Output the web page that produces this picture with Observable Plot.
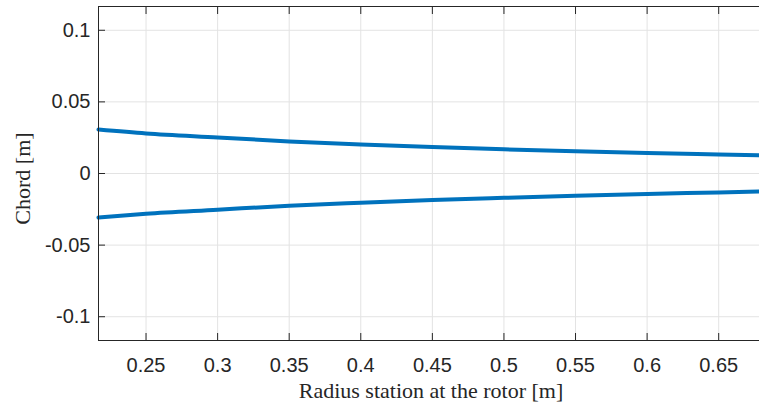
<!DOCTYPE html>
<html>
<head>
<meta charset="utf-8">
<script src="https://cdn.jsdelivr.net/npm/d3@7"></script>
<script src="https://cdn.jsdelivr.net/npm/@observablehq/plot@0.6"></script>
<style>
  html, body { margin: 0; padding: 0; background: #ffffff; }
  #chart { width: 759px; height: 403px; overflow: hidden; }
</style>
</head>
<body>
<div id="chart"></div>
<script>
// Radius stations [m]
const radius = [0.2168, 0.25, 0.30, 0.35, 0.40, 0.45, 0.50, 0.55, 0.60, 0.65, 0.6785];
// Upper chord edge [m]
const upperChord = [0.0307, 0.0280, 0.0252, 0.0224, 0.0203, 0.0185, 0.0169, 0.0155, 0.0143, 0.0133, 0.0128];
// Lower chord edge [m]
const lowerChord = [-0.0307, -0.0281, -0.0253, -0.0225, -0.0204, -0.0185, -0.0170, -0.0156, -0.0143, -0.0132, -0.0126];

const xTicks = [0.25, 0.3, 0.35, 0.4, 0.45, 0.5, 0.55, 0.6, 0.65];
const yTicks = [-0.1, -0.05, 0, 0.05, 0.1];
const xLabel = "Radius station at the rotor [m]";
const yLabel = "Chord [m]";

const upper = radius.map((r, i) => ({r, c: upperChord[i]}));
const lower = radius.map((r, i) => ({r, c: lowerChord[i]}));

const axisColor = "#262626";
const gridColor = "#e3e3e3";
const lineColor = "#0072BD";
const serif = "Liberation Serif, DejaVu Serif, serif";

const chart = Plot.plot({
  width: 759,
  height: 403,
  marginLeft: 98,
  marginRight: 0,
  marginTop: 6,
  marginBottom: 63,
  style: {
    fontFamily: "Liberation Sans, Arial, sans-serif",
    fontSize: "20px",
    color: axisColor,
    background: "#ffffff"
  },
  x: {domain: [0.2168, 0.6785]},
  y: {domain: [-0.1166, 0.1166]},
  marks: [
    Plot.gridX(xTicks, {stroke: gridColor, strokeOpacity: 1, strokeWidth: 1}),
    Plot.gridY(yTicks, {stroke: gridColor, strokeOpacity: 1, strokeWidth: 1}),
    Plot.line(upper, {x: "r", y: "c", stroke: lineColor, strokeWidth: 4, curve: "monotone-x"}),
    Plot.line(lower, {x: "r", y: "c", stroke: lineColor, strokeWidth: 4, curve: "monotone-x"}),
    Plot.frame({anchor: "left", stroke: axisColor, strokeWidth: 1}),
    Plot.frame({anchor: "bottom", stroke: axisColor, strokeWidth: 1}),
    Plot.frame({anchor: "top", stroke: axisColor, strokeWidth: 1}),
    // axes with inward ticks
    Plot.axisX(xTicks, {anchor: "bottom", tickSize: -7, tickPadding: 24, tickFormat: d => String(d), label: null, stroke: axisColor, fill: axisColor}),
    Plot.axisX(xTicks, {anchor: "top", tickSize: -7, tickFormat: () => "", label: null, stroke: axisColor}),
    Plot.axisY(yTicks, {anchor: "left", tickSize: -7, tickPadding: 15, tickFormat: d => String(d), label: null, stroke: axisColor, fill: axisColor}),
    // axis titles
    Plot.text([xLabel], {frameAnchor: "bottom", textAnchor: "middle", lineAnchor: "middle", dx: 2, dy: 50, fontFamily: serif, fontSize: 22, fill: axisColor}),
    Plot.text([yLabel], {frameAnchor: "left", textAnchor: "middle", lineAnchor: "middle", rotate: -90, dx: -76, dy: 5, fontFamily: serif, fontSize: 22, fill: axisColor})
  ]
});

document.getElementById("chart").appendChild(chart);
</script>
</body>
</html>
